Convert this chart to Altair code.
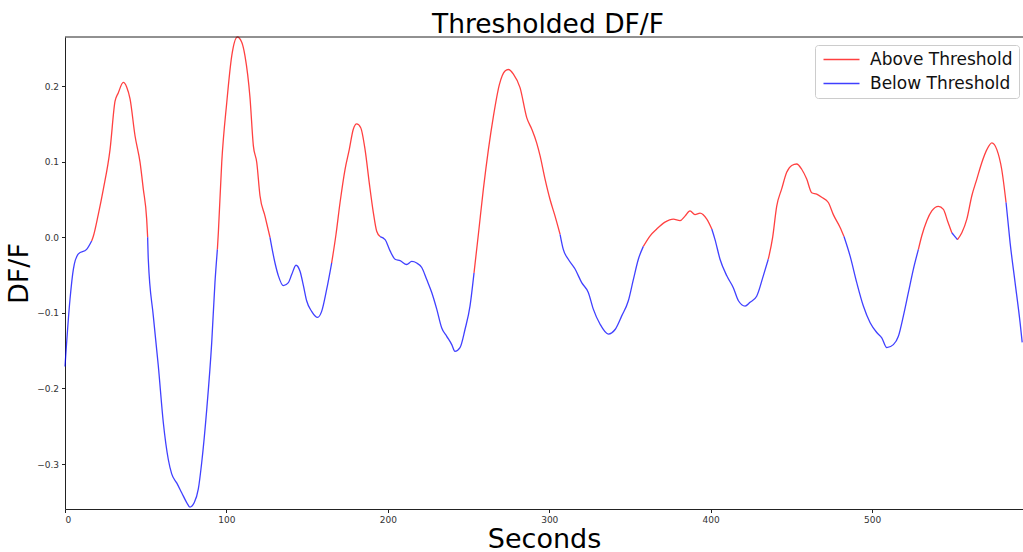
import altair as alt
import pandas as pd

seconds = [0, 3.1, 5.2, 8.3, 13.4, 16.5, 17.5, 20.6, 23.7, 27.9, 31.0, 33.0, 36.1, 38.2, 40.3, 43.4,
           46.5, 48.5, 50.6, 51.2, 51.6, 54.7, 57.8, 60.9, 64.0, 66.1, 69.2, 72.3, 75.4, 77.4, 80.1,
           82.6, 84.7, 87.8, 90.9, 92.9, 94.4, 95.0, 97.1, 100.2, 103.3, 106.8, 109.5, 111.5, 114.6,
           116.7, 118.8, 120.8, 123.9, 127.0, 130.1, 132.2, 135.3, 138.4, 140.5, 143.1, 145.6, 147.7,
           149.7, 152.8, 156.5, 159.0, 162.1, 165.2, 167.9, 170.4, 173.5, 176.1, 178.6, 180.7, 183.2,
           185.9, 188.5, 191.0, 193.1, 195.2, 198.3, 201.4, 204.5, 207.6, 211.7, 214.8, 217.9, 221.0,
           224.1, 227.2, 230.3, 233.4, 236.5, 239.6, 241.6, 244.7, 247.8, 250.9, 253.4, 256.1, 259.2,
           262.3, 265.4, 269.1, 272.6, 274.7, 277.8, 281.9, 286.1, 289.2, 292.2, 294.3, 297.4, 300.5,
           303.6, 306.7, 308.7, 311.8, 316.0, 320.1, 324.2, 327.3, 331.5, 336.6, 340.8, 344.9, 349.0,
           352.1, 355.2, 358.3, 362.5, 366.6, 371.7, 376.9, 381.0, 384.1, 387.2, 390.3, 393.4, 397.6,
           400.7, 402.7, 405.8, 410.0, 414.1, 417.2, 421.3, 424.4, 428.5, 432.6, 435.7, 438.4, 440.9,
           444.0, 447.1, 450.2, 453.3, 456.4, 459.5, 462.6, 465.7, 468.8, 472.9, 476.0, 480.2, 482.6,
           486.4, 490.5, 494.6, 498.8, 502.9, 506.0, 509.1, 513.2, 516.3, 519.4, 522.5, 525.6, 528.7,
           530.8, 533.9, 537.0, 541.1, 544.2, 546.7, 549.4, 552.9, 555.6, 558.7, 561.8, 564.9, 568.0,
           571.1, 574.2, 577.3, 580.3, 583.0, 585.5, 588.6, 591.7, 593.0]

dff = [-0.171, -0.082, -0.042, -0.022, -0.016, -0.005, 0.001, 0.030, 0.063, 0.116, 0.180, 0.191,
       0.205, 0.199, 0.183, 0.134, 0.099, 0.064, 0.024, 0.000, -0.029, -0.104, -0.170, -0.245,
       -0.294, -0.313, -0.325, -0.338, -0.351, -0.357, -0.351, -0.333, -0.298, -0.228, -0.139,
       -0.060, -0.016, 0.006, 0.099, 0.178, 0.240, 0.265, 0.258, 0.240, 0.185, 0.121, 0.099, 0.055,
       0.028, 0.000, -0.034, -0.051, -0.064, -0.060, -0.049, -0.037, -0.045, -0.064, -0.084, -0.098,
       -0.106, -0.098, -0.069, -0.034, 0.004, 0.046, 0.090, 0.116, 0.143, 0.150, 0.145, 0.116, 0.072,
       0.033, 0.008, 0.001, -0.003, -0.018, -0.029, -0.031, -0.036, -0.032, -0.034, -0.040, -0.056,
       -0.073, -0.095, -0.120, -0.131, -0.142, -0.151, -0.146, -0.122, -0.091, -0.047, 0.004, 0.064,
       0.116, 0.160, 0.202, 0.220, 0.222, 0.216, 0.198, 0.158, 0.143, 0.125, 0.108, 0.077, 0.050,
       0.028, 0.004, -0.016, -0.029, -0.042, -0.060, -0.073, -0.095, -0.115, -0.128, -0.122, -0.104,
       -0.084, -0.056, -0.029, -0.012, 0.002, 0.011, 0.020, 0.024, 0.022, 0.028, 0.035, 0.030, 0.032,
       0.024, 0.011, -0.003, -0.029, -0.051, -0.067, -0.084, -0.091, -0.086, -0.078, -0.051, -0.029,
       0.000, 0.041, 0.064, 0.086, 0.095, 0.097, 0.090, 0.077, 0.059, 0.057, 0.053, 0.046, 0.030,
       0.013, 0.001, -0.025, -0.060, -0.091, -0.113, -0.126, -0.133, -0.146, -0.142, -0.131, -0.104,
       -0.073, -0.042, -0.016, 0.002, 0.022, 0.035, 0.041, 0.037, 0.022, 0.006, -0.003, 0.006, 0.024,
       0.055, 0.077, 0.099, 0.116, 0.125, 0.116, 0.090, 0.046, -0.007, -0.060, -0.113, -0.139]

threshold = 0.0
legend_labels = ["Above Threshold", "Below Threshold"]
line_colors = ["#ff0000", "#0000ff"]
x_ticks = [0, 100, 200, 300, 400, 500]
y_ticks = [-0.3, -0.2, -0.1, 0.0, 0.1, 0.2]

rows = []
seg = 0
prev = None
for i, (x, y) in enumerate(zip(seconds, dff)):
    state = legend_labels[0] if y >= threshold else legend_labels[1]
    if prev is not None and state != prev:
        seg += 1
        rows.append({"x": seconds[i - 1], "y": dff[i - 1], "state": state, "seg": seg, "order": i - 0.5})
    rows.append({"x": x, "y": y, "state": state, "seg": seg, "order": i})
    prev = state
df = pd.DataFrame(rows)

W, H = 958, 472

line = alt.Chart(df).mark_line(strokeWidth=1.3, opacity=0.75, interpolate="monotone").encode(
    x=alt.X("x:Q",
            scale=alt.Scale(domain=[0, 593.5], nice=False, zero=False),
            axis=alt.Axis(values=x_ticks, title="Seconds", format="d",
                          titleY=38, titleBaseline="alphabetic")),
    y=alt.Y("y:Q",
            scale=alt.Scale(domain=[-0.3595, 0.265], nice=False, zero=False),
            axis=alt.Axis(values=y_ticks, title="DF/F", format=".1f",
                          titleX=-32, titleY=H / 2, titleBaseline="bottom")),
    color=alt.Color("state:N",
                    scale=alt.Scale(domain=legend_labels, range=line_colors),
                    legend=alt.Legend(orient="none", legendX=750, legendY=8, title=None,
                                      labelFontSize=17, labelFont="DejaVu Sans", labelColor="#111",
                                      symbolType="M-3,0L3,0", symbolSize=144, symbolStrokeWidth=1.5,
                                      symbolOpacity=0.75, symbolOffset=12, padding=6,
                                      fillColor="white", strokeColor="#cccccc", cornerRadius=3,
                                      labelOffset=20, rowPadding=6)),
    detail="seg:N",
    order="order:Q",
)

top_spine = alt.Chart(pd.DataFrame({"a": [0]})).mark_rule(color="#222", strokeWidth=1).encode(
    x=alt.value(0), x2=alt.value(W + 2), y=alt.value(0)
)

chart = alt.layer(line, top_spine).properties(
    width=W, height=H,
    title=alt.TitleParams("Thresholded DF/F", fontSize=26.5, font="DejaVu Sans", fontWeight="normal",
                          anchor="middle", baseline="alphabetic", offset=4, dx=4, dy=29, color="#000"),
    autosize=alt.AutoSizeParams(type="none"),
    padding={"left": 65, "top": 37, "right": 0, "bottom": 43},
).configure_view(strokeWidth=0).configure_axis(
    grid=False, labelFont="DejaVu Sans", labelFontSize=9, labelColor="#333",
    tickColor="#222", tickSize=3.5, domainColor="#222", labelPadding=3,
    titleFont="DejaVu Sans", titleFontSize=27, titleFontWeight="normal", titleColor="#000",
)

chart.save("out.html", embed_options={"renderer": "svg", "actions": False})
